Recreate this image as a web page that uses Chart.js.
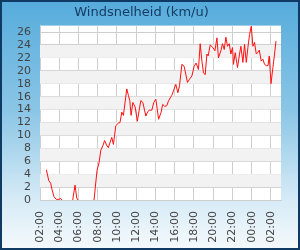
<!DOCTYPE html>
<html>
<head>
<meta charset="utf-8">
<script src="https://cdn.jsdelivr.net/npm/chart.js@4"></script>
<style>
  html, body { margin: 0; padding: 0; }
  #wrap {
    width: 300px; height: 250px; box-sizing: border-box;
    border: 2px solid #0e3a63;
    background: linear-gradient(to bottom, #56acdc 0%, #8cc6e6 45%, #d6ebf6 80%, #f4f9fc 100%);
  }
  canvas { display: block; }
</style>
</head>
<body>
<div id="wrap"><canvas id="chart" width="296" height="246"></canvas></div>
<script>
// hours after 02:00
const hours = [
  0.66, 0.91, 1.11, 1.25, 1.46, 1.70, 1.98, 2.15, 2.29, 2.8,
  3.40, 3.64, 3.82, 3.95, 4.8,
  5.62, 5.75, 5.93, 6.14, 6.32, 6.56, 6.71, 6.92, 7.10, 7.46,
  7.63, 7.88, 8.15, 8.32, 8.50, 8.67, 9.02, 9.19, 9.33, 9.47,
  9.65, 9.89, 10.12, 10.33, 10.48, 10.69, 11.00, 11.21, 11.37, 11.62,
  11.83, 12.04, 12.33, 12.59, 12.75, 12.96, 13.18, 13.35, 13.53, 13.70,
  13.87, 14.12, 14.33, 14.50, 14.75, 14.98, 15.19, 15.33, 15.54, 15.79,
  16.02, 16.23, 16.47, 16.65, 16.83, 16.99, 17.17, 17.35, 17.48, 17.69,
  17.97, 18.18, 18.39, 18.55, 18.80, 18.97, 19.15, 19.32, 19.49, 19.67,
  19.84, 20.01, 20.11, 20.29, 20.53, 20.74, 20.88, 21.09, 21.26, 21.44,
  21.61, 21.78, 21.96, 22.13, 22.30, 22.48, 22.61, 22.79, 23.00, 23.17,
  23.34, 23.52, 23.70, 23.83, 24.01, 24.21, 24.38, 24.53
];
const speeds = [
  4.7, 3.0, 2.6, 1.6, 0.5, 0.1, 0.1, 0.25, 0, null,
  0, 2.3, 0.3, 0, null,
  0, 2.0, 4.6, 5.8, 7.7, 8.5, 9.2, 8.5, 8.1, 9.7,
  8.6, 11.5, 11.9, 12.0, 13.6, 13.1, 17.2, 16.2, 15.4, 13.1,
  15.1, 14.4, 12.2, 14.1, 15.4, 15.1, 13.0, 13.7, 13.9, 13.9,
  15.1, 15.6, 12.5, 13.6, 14.8, 14.5, 14.6, 15.3, 15.8, 16.2,
  16.9, 17.9, 16.6, 17.7, 21.0, 20.7, 19.2, 18.2, 18.7, 19.2,
  20.7, 21.2, 20.2, 24.2, 21.5, 19.7, 19.4, 22.6, 22.3, 24.0,
  23.6, 23.1, 25.1, 22.0, 23.1, 24.2, 23.3, 25.2, 23.8, 24.2,
  22.6, 23.6, 21.0, 22.8, 20.5, 22.6, 23.8, 21.3, 24.1, 21.3,
  23.6, 25.6, 26.9, 23.8, 24.4, 22.6, 22.8, 23.2, 21.5, 21.8,
  21.0, 20.8, 20.8, 22.3, 18.0, 20.5, 22.6, 24.6
];
const xTickHours = [0, 2, 4, 6, 8, 10, 12, 14, 16, 18, 20, 22, 24];
const xTickLabels = ['02:00', '04:00', '06:00', '08:00', '10:00', '12:00', '14:00',
  '16:00', '18:00', '20:00', '22:00', '00:00', '02:00'];
const yTicks = [0, 2, 4, 6, 8, 10, 12, 14, 16, 18, 20, 22, 24, 26];

const points = hours.map((h, i) => ({ x: h, y: speeds[i] }));

// grey bands every other 2 km/u
const bandPlugin = {
  id: 'bands',
  beforeDatasetsDraw(chart) {
    const { ctx, chartArea, scales } = chart;
    ctx.save();
    ctx.fillStyle = '#f2f2f2';
    for (let v = 2; v < 26; v += 4) {
      const top = scales.y.getPixelForValue(v + 2);
      const bot = scales.y.getPixelForValue(v);
      ctx.fillRect(chartArea.left, top, chartArea.right - chartArea.left, bot - top);
    }
    ctx.restore();
  }
};

const plotBg = {
  id: 'plotBg',
  beforeDraw(chart) {
    const { ctx, chartArea } = chart;
    ctx.save();
    ctx.fillStyle = '#ffffff';
    ctx.fillRect(chartArea.left, chartArea.top, chartArea.right - chartArea.left, chartArea.bottom - chartArea.top);
    ctx.restore();
  }
};

Chart.defaults.font.family = '"DejaVu Sans", sans-serif';

new Chart(document.getElementById('chart'), {
  type: 'line',
  data: {
    datasets: [{
      data: points,
      borderColor: '#ff1010',
      borderWidth: 1,
      pointRadius: 0,
      tension: 0,
      spanGaps: false
    }]
  },
  options: {
    responsive: false,
    animation: false,
    layout: { padding: { left: 0, right: 17, top: 0, bottom: 0 } },
    plugins: {
      legend: { display: false },
      tooltip: { enabled: false },
      title: {
        display: true,
        text: 'Windsnelheid (km/u)',
        color: '#163c63',
        font: { size: 13, weight: 'normal' },
        padding: { top: 3, bottom: 5 }
      }
    },
    scales: {
      x: {
        type: 'linear',
        min: 0,
        max: 25.05,
        afterBuildTicks: s => { s.ticks = xTickHours.map(v => ({ value: v })); },
        afterFit: s => { s.height = 48; },
        grid: { color: '#cfcfcf', drawTicks: false },
        border: { color: '#cfcfcf' },
        ticks: {
          autoSkip: false,
          minRotation: 90,
          maxRotation: 90,
          padding: 11,
          color: '#444',
          font: { size: 11 },
          callback: v => xTickLabels[xTickHours.indexOf(v)]
        }
      },
      y: {
        min: 0,
        max: 27,
        afterBuildTicks: s => { s.ticks = yTicks.map(v => ({ value: v })); },
        afterFit: s => { s.width = 38; },
        grid: { color: '#cfcfcf', drawTicks: false },
        border: { color: '#cfcfcf' },
        ticks: {
          autoSkip: false,
          padding: 9,
          color: '#444',
          font: { size: 11 }
        }
      }
    }
  },
  plugins: [plotBg, bandPlugin]
});
</script>
</body>
</html>
